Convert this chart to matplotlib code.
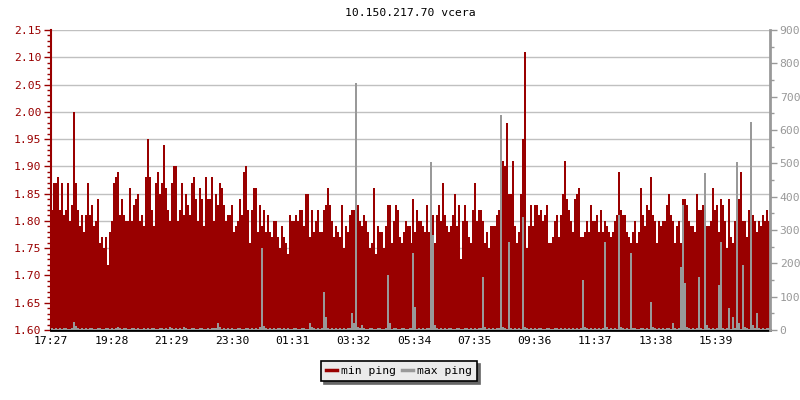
import matplotlib
matplotlib.use('Agg')
import matplotlib.pyplot as plt
import numpy as np
from matplotlib.ticker import MultipleLocator, FixedLocator, FormatStrFormatter
from matplotlib.lines import Line2D

RED = '#990000'
GREY = '#999999'
FONT = 'DejaVu Sans Mono'
FS = 8.2

# min ping (ms), left axis, 8 segments of 45 samples (4 min each)
r1 = [1.82,1.87,1.87,1.88,1.82,1.87,1.81,1.82,1.87,1.80, 1.83,2.00,1.87,1.82,1.79,1.81,1.78,1.81,1.87,1.81,
      1.83,1.79,1.80,1.84,1.76,1.77,1.75,1.77,1.72,1.78, 1.80,1.87,1.88,1.89,1.81,1.84,1.81,1.80,1.80,1.86,
      1.80,1.83,1.84,1.85,1.80]
r2 = [1.81,1.79,1.88,1.95,1.88,1.82,1.79,1.87,1.89,1.85, 1.87,1.94,1.86,1.82,1.80,1.87,1.90,1.90,1.80,1.82,
      1.87,1.81,1.85,1.83,1.81,1.87,1.88,1.84,1.80,1.86, 1.84,1.79,1.88,1.84,1.84,1.88,1.80,1.85,1.83,1.87,
      1.86,1.83,1.80,1.81,1.81]
r3 = [1.83,1.78,1.79,1.80,1.84,1.81,1.89,1.90,1.82,1.76, 1.82,1.86,1.86,1.78,1.83,1.79,1.82,1.78,1.81,1.78,
      1.77,1.80,1.80,1.77,1.75,1.79,1.77,1.76,1.74,1.81, 1.80,1.80,1.81,1.80,1.82,1.82,1.79,1.85,1.85,1.77,
      1.82,1.78,1.80,1.82,1.78]
r4 = [1.78,1.82,1.83,1.86,1.83,1.80,1.77,1.79,1.78,1.77, 1.83,1.75,1.79,1.78,1.81,1.82,1.82,1.83,1.83,1.80,
      1.79,1.81,1.80,1.78,1.75,1.76,1.86,1.74,1.79,1.78, 1.78,1.75,1.79,1.83,1.83,1.76,1.80,1.83,1.82,1.77,
      1.76,1.78,1.80,1.79,1.79]
r5 = [1.76,1.84,1.78,1.82,1.80,1.80,1.79,1.78,1.83,1.78, 1.81,1.81,1.76,1.81,1.83,1.80,1.87,1.81,1.79,1.78,
      1.79,1.81,1.85,1.79,1.83,1.73,1.80,1.83,1.80,1.77, 1.76,1.82,1.87,1.80,1.82,1.82,1.80,1.76,1.78,1.75,
      1.79,1.79,1.79,1.81,1.82]
r6 = [1.92,1.91,1.90,1.98,1.85,1.85,1.91,1.79,1.76,1.78, 1.85,1.95,2.11,1.75,1.79,1.83,1.79,1.83,1.83,1.81,
      1.82,1.80,1.81,1.83,1.76,1.76,1.77,1.80,1.81,1.77, 1.81,1.85,1.91,1.84,1.82,1.80,1.78,1.84,1.85,1.86,
      1.77,1.77,1.78,1.80,1.78]
r7 = [1.83,1.80,1.80,1.81,1.78,1.82,1.78,1.80,1.79,1.78, 1.77,1.78,1.80,1.81,1.89,1.82,1.81,1.81,1.78,1.77,
      1.76,1.78,1.80,1.76,1.78,1.86,1.81,1.79,1.83,1.82, 1.88,1.81,1.80,1.76,1.80,1.79,1.80,1.80,1.83,1.85,
      1.81,1.80,1.76,1.79,1.80]
r8 = [1.76,1.84,1.84,1.83,1.80,1.79,1.79,1.78,1.85,1.82, 1.82,1.83,1.83,1.79,1.79,1.80,1.86,1.82,1.83,1.78,
      1.84,1.83,1.80,1.75,1.84,1.77,1.76,1.80,1.78,1.84, 1.89,1.80,1.80,1.77,1.82,1.82,1.81,1.80,1.78,1.80,
      1.79,1.81,1.80,1.82,1.80]

# max ping (ms), right axis
g1 = [5,4,6,3,5,4,6,5,3,4, 6,25,12,5,4,6,3,5,4,7, 5,3,4,6,5,4,3,5,6,4, 5,3,6,8,5,4,6,5,3,4, 5,6,4,5,3]
g2 = [4,5,3,6,4,5,7,4,3,5, 6,4,5,3,8,5,4,6,3,5, 4,9,5,3,4,6,5,4,3,5, 6,4,3,5,4,6,5,7,20,8, 4,5,3,6,4]
g3 = [5,3,4,6,5,4,3,5,6,4, 5,3,6,4,10,245,12,5,4,6, 3,5,4,6,5,3,7,4,5,3, 4,6,5,3,4,6,5,4,3,20, 8,5,4,6,3]
g4 = [6,115,40,5,4,6,3,5,4,6, 3,5,4,6,5,50,20,740,10,5, 15,6,4,3,5,6,4,3,5,6, 4,3,5,165,20,4,6,5,3,4, 6,5,4,3,5]
g5 = [5,230,70,4,6,3,5,4,6,5, 505,285,15,5,4,6,3,5,4,6, 5,3,4,6,5,4,3,6,5,4, 6,3,5,4,6,5,160,8,4,5, 3,6,4,5,6]
g6 = [645,10,5,4,265,6,4,5,3,6, 4,340,8,5,4,6,3,5,4,6, 5,3,4,6,5,4,3,5,6,4, 5,3,6,4,5,3,6,4,5,3, 6,150,8,5,4]
g7 = [5,4,6,3,5,4,6,265,8,4, 5,3,6,4,345,8,5,4,6,3, 230,6,5,4,3,5,6,4,5,3, 85,10,5,4,6,3,5,4,6,5, 3,20,6,4,5]
g8 = [190,375,140,10,5,4,6,3,5,160, 6,4,470,15,5,4,6,3,5,135, 265,6,4,5,65,4,40,5,505,20, 4,195,8,5,4,625,15,5,50,6, 4,5,3,6,5]

min_ping = r1 + r2 + r3 + r4 + r5 + r6 + r7 + r8
max_ping = g1 + g2 + g3 + g4 + g5 + g6 + g7 + g8
step_min = 4
minutes = np.arange(len(min_ping)) * step_min

tick_minutes = [0, 121, 242, 363, 484, 605, 727, 848, 969, 1090, 1211, 1332]
tick_labels = ['17:27', '19:28', '21:29', '23:30', '01:31', '03:32',
               '05:34', '07:35', '09:36', '11:37', '13:38', '15:39']

fig = plt.figure(figsize=(8, 4), dpi=100)
fig.patch.set_facecolor('white')
ax = fig.add_axes([51/800, 70/400, 719/800, 300/400])
ax.bar(minutes, min_ping, width=step_min, align='edge', color=RED,
       linewidth=0, antialiased=False, zorder=2)
ax.set_xlim(0, 1440)
ax.set_ylim(1.60, 2.15)
ax.yaxis.set_major_locator(MultipleLocator(0.05))
ax.yaxis.set_minor_locator(MultipleLocator(0.01))
ax.yaxis.set_major_formatter(FormatStrFormatter('%.2f'))
ax.grid(axis='y', which='major', color='#c0c0c0', linewidth=1)
ax.set_axisbelow(True)
ax.xaxis.set_major_locator(FixedLocator(tick_minutes))
ax.set_xticklabels(tick_labels)

for s in ['top', 'right']:
    ax.spines[s].set_visible(False)
ax.spines['left'].set_color(RED)
ax.spines['left'].set_linewidth(1.5)
ax.spines['bottom'].set_color('black')
ax.spines['bottom'].set_linewidth(2)

ax.tick_params(axis='y', which='major', colors=RED, length=5, width=1, direction='out', pad=2,
               labelsize=FS)
ax.tick_params(axis='y', which='minor', colors=RED, length=3, width=1, direction='out')
ax.tick_params(axis='x', which='major', colors='black', length=4, width=1.5, direction='in', pad=4,
               labelsize=FS)
for lab in ax.get_yticklabels() + ax.get_xticklabels():
    lab.set_family(FONT)
for lab in ax.get_yticklabels():
    lab.set_color(RED)

ax2 = ax.twinx()
ax2.bar(minutes, max_ping, width=step_min, align='edge', color=GREY,
        linewidth=0, antialiased=False, zorder=3)
ax2.set_ylim(0, 900)
ax2.set_xlim(0, 1440)
ax2.yaxis.set_major_locator(MultipleLocator(100))
ax2.yaxis.set_minor_locator(MultipleLocator(50))
for s in ['top', 'left', 'bottom']:
    ax2.spines[s].set_visible(False)
ax2.spines['right'].set_color(GREY)
ax2.spines['right'].set_linewidth(2)
ax2.tick_params(axis='y', which='major', colors=GREY, length=5, width=1, direction='out', pad=2,
                labelsize=FS)
ax2.tick_params(axis='y', which='minor', colors=GREY, length=3, width=1, direction='out')
for lab in ax2.get_yticklabels():
    lab.set_family(FONT)

fig.text((51 + 770) / 2 / 800, 1 - 13/400, '10.150.217.70 vcera', ha='center', va='center',
         family=FONT, fontsize=FS, color='black')

handles = [Line2D([], [], color=RED, lw=2.5), Line2D([], [], color=GREY, lw=2.5)]
leg = fig.legend(handles, ['min ping', 'max ping'], loc='center',
                 bbox_to_anchor=(399/800, 1 - 371/400), ncol=2, frameon=True,
                 fancybox=False, shadow={'color': '#666666', 'alpha': 1},
                 handlelength=0.9, handletextpad=0.35, columnspacing=0.6,
                 borderpad=0.45, borderaxespad=0, prop={'family': FONT, 'size': FS})
leg.get_frame().set_facecolor('#ebebeb')
leg.get_frame().set_edgecolor('black')
leg.get_frame().set_linewidth(1.2)
leg.get_frame().set_alpha(1)

fig.savefig('out.png', dpi=100, facecolor='white')
